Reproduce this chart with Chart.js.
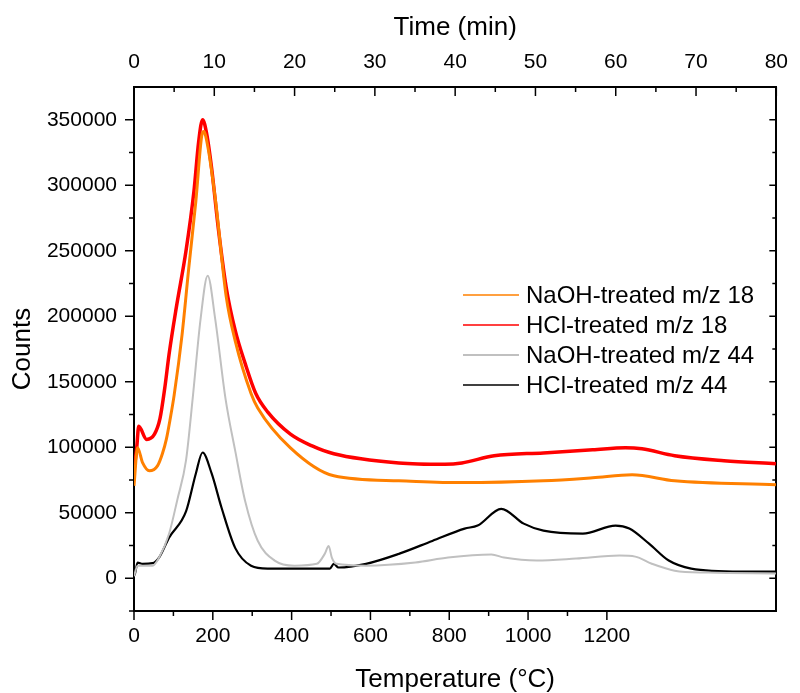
<!DOCTYPE html>
<html>
<head>
<meta charset="utf-8">
<script src="https://cdn.jsdelivr.net/npm/chart.js@4.4.1/dist/chart.umd.min.js"></script>
<style>
  html, body { margin: 0; padding: 0; background: #fff; }
  canvas { display: block; }
</style>
</head>
<body>
<canvas id="chart" width="800" height="693"></canvas>
<script>
// Axis ticks (labels shown on the major ones)
const tempTicks = [0, 200, 400, 600, 800, 1000, 1200];
const tempMinor = [100, 300, 500, 700, 900, 1100];
const timeTicks = [0, 10, 20, 30, 40, 50, 60, 70, 80];
const timeMinor = [5, 15, 25, 35, 45, 55, 65, 75];
const countTicks = [0, 50000, 100000, 150000, 200000, 250000, 300000, 350000];
const countMinor = [-25000, 25000, 75000, 125000, 175000, 225000, 275000, 325000];

// NaOH-treated m/z 18
const naoh18T = [0, 9, 22, 39, 60, 72, 82, 92, 102, 122, 139, 157, 172, 177, 187, 207, 234, 257, 297, 314, 397, 507, 672, 832, 1039, 1164, 1264, 1372, 1629];
const naoh18C = [70600, 99600, 88000, 82000, 86000, 95000, 106000, 122000, 140000, 186000, 237000, 288000, 338000, 341000, 330000, 288000, 215000, 181000, 141000, 130000, 99500, 78200, 74400, 73000, 74400, 76700, 79000, 74400, 71400];

// HCl-treated m/z 18
const hcl18T = [0, 7, 12, 32, 52, 66, 78, 89, 107, 132, 152, 164, 174, 184, 197, 214, 234, 257, 282, 309, 339, 397, 452, 507, 672, 789, 832, 914, 1039, 1164, 1247, 1289, 1372, 1497, 1629];
const hcl18C = [82000, 100000, 116000, 106000, 110000, 122000, 145000, 171000, 206000, 250000, 295000, 333000, 350000, 340000, 313000, 267000, 222000, 189000, 164000, 141000, 127000, 110000, 101000, 95000, 88000, 87000, 88000, 93500, 95700, 98000, 99600, 98800, 93500, 89700, 87400];

// NaOH-treated m/z 44
const naoh44T = [0, 9, 47, 64, 89, 110, 132, 149, 169, 187, 206, 232, 257, 282, 314, 357, 407, 464, 484, 494, 502, 514, 589, 714, 797, 907, 939, 1022, 1122, 1232, 1272, 1314, 1372, 1457, 1629];
const naoh44C = [1500, 9600, 9600, 16000, 34000, 60000, 90000, 137500, 198000, 231000, 198000, 137500, 97000, 59000, 28600, 13500, 9600, 11000, 18600, 24700, 15800, 11000, 9600, 12000, 15800, 18100, 15800, 13500, 15000, 17300, 16500, 11100, 5800, 4300, 3600];

// HCl-treated m/z 44
const hcl44T = [0, 3, 9, 22, 47, 64, 89, 132, 157, 174, 197, 222, 257, 297, 339, 497, 507, 519, 589, 672, 757, 839, 872, 932, 989, 1039, 1139, 1222, 1257, 1307, 1357, 1414, 1539, 1629];
const hcl44C = [2000, 4000, 12000, 11000, 11500, 16000, 31000, 51000, 80000, 96000, 80000, 54000, 23000, 9600, 7400, 7400, 11000, 8200, 11000, 18600, 28500, 37900, 40200, 53000, 41700, 36300, 34000, 40200, 37900, 26400, 13500, 7400, 5100, 5100];

const toPoints = (xs, ys) => xs.map((x, i) => ({ x: x, y: ys[i] }));
const asTicks = vals => vals.map(v => ({ value: v }));
const FONT = '"Liberation Sans", Arial, sans-serif';

function series(label, xs, ys, color, width, legendWidth) {
    return {
        label: label,
        data: toPoints(xs, ys),
        borderColor: color,
        borderWidth: width,
        legendWidth: legendWidth,
        pointRadius: 0,
        cubicInterpolationMode: 'monotone',
        fill: false
    };
}

// Tick marks: left/bottom outward, top/right inward
const tickMarks = {
    id: 'tickMarks',
    afterDraw(chart) {
        const { ctx, chartArea: a, scales } = chart;
        const line = (x1, y1, x2, y2) => { ctx.beginPath(); ctx.moveTo(x1, y1); ctx.lineTo(x2, y2); ctx.stroke(); };
        ctx.save();
        ctx.strokeStyle = '#000';
        ctx.lineWidth = 1.5;
        tempTicks.forEach(v => { const x = scales.x.getPixelForValue(v); line(x, a.bottom, x, a.bottom + 9); });
        tempMinor.forEach(v => { const x = scales.x.getPixelForValue(v); line(x, a.bottom, x, a.bottom + 5); });
        timeTicks.forEach(v => { const x = scales.x2.getPixelForValue(v); line(x, a.top, x, a.top + 9); });
        timeMinor.forEach(v => { const x = scales.x2.getPixelForValue(v); line(x, a.top, x, a.top + 5); });
        countTicks.forEach(v => {
            const y = scales.y.getPixelForValue(v);
            line(a.left - 9, y, a.left, y);
            line(a.right - 7, y, a.right, y);
        });
        countMinor.forEach(v => {
            const y = scales.y.getPixelForValue(v);
            line(a.left - 5, y, a.left, y);
            if (v > 0) line(a.right - 4, y, a.right, y);
        });
        ctx.restore();
    }
};

// Legend inside the plot
const insideLegend = {
    id: 'insideLegend',
    afterDraw(chart) {
        const { ctx } = chart;
        ctx.save();
        ctx.font = '24px ' + FONT;
        ctx.textBaseline = 'middle';
        ctx.fillStyle = '#000';
        chart.data.datasets.forEach((ds, i) => {
            const y = 295 + i * 30;
            ctx.strokeStyle = ds.borderColor;
            ctx.lineWidth = ds.legendWidth;
            ctx.beginPath(); ctx.moveTo(463, y); ctx.lineTo(519, y); ctx.stroke();
            ctx.fillText(ds.label, 526, y + 1);
        });
        ctx.restore();
    }
};

new Chart(document.getElementById('chart'), {
    type: 'line',
    data: {
        datasets: [
            series('NaOH-treated m/z 18', naoh18T, naoh18C, '#FF8000', 3, 1.5),
            series('HCl-treated m/z 18', hcl18T, hcl18C, '#FF0000', 3.5, 1.5),
            series('NaOH-treated m/z 44', naoh44T, naoh44C, '#C0C0C0', 2, 2),
            series('HCl-treated m/z 44', hcl44T, hcl44C, '#000000', 2.2, 1.5)
        ]
    },
    options: {
        responsive: false,
        animation: false,
        layout: { padding: 0 },
        plugins: { legend: { display: false }, tooltip: { enabled: false } },
        scales: {
            x: {
                type: 'linear', position: 'bottom', min: 0, max: 1630,
                grid: { display: false, drawTicks: false },
                border: { display: true, color: '#000', width: 2 },
                ticks: {
                    autoSkip: false, maxRotation: 0, padding: 13, color: '#000',
                    font: { family: FONT, size: 21 },
                    callback: v => String(v)
                },
                afterBuildTicks: s => { s.ticks = asTicks(tempTicks); },
                title: {
                    display: true, text: 'Temperature (°C)', color: '#000',
                    font: { family: FONT, size: 26, lineHeight: 1 }, padding: { top: 0, bottom: 0 }
                },
                afterFit: s => { s.height = 82; }
            },
            x2: {
                type: 'linear', position: 'top', min: 0, max: 80,
                grid: { display: false, drawTicks: false },
                border: { display: true, color: '#000', width: 2 },
                ticks: {
                    autoSkip: false, maxRotation: 0, padding: 12, color: '#000',
                    font: { family: FONT, size: 21 },
                    callback: v => String(v)
                },
                afterBuildTicks: s => { s.ticks = asTicks(timeTicks); },
                title: {
                    display: true, text: 'Time (min)', color: '#000',
                    font: { family: FONT, size: 26, lineHeight: 1 }, padding: { top: 15, bottom: 0 }
                },
                afterFit: s => { s.height = 87; }
            },
            y: {
                type: 'linear', position: 'left', min: -25000, max: 375000,
                grid: { display: false, drawTicks: false },
                border: { display: true, color: '#000', width: 2 },
                ticks: {
                    autoSkip: false, padding: 17, color: '#000',
                    font: { family: FONT, size: 21 },
                    callback: v => String(v)
                },
                afterBuildTicks: s => { s.ticks = asTicks(countTicks); },
                title: {
                    display: true, text: 'Counts', color: '#000',
                    font: { family: FONT, size: 26, lineHeight: 1 }, padding: { top: 10, bottom: 0 }
                },
                afterFit: s => { s.width = 134; }
            },
            y2: {
                type: 'linear', position: 'right', min: -25000, max: 375000,
                grid: { display: false, drawTicks: false },
                border: { display: true, color: '#000', width: 2 },
                ticks: { display: false },
                afterFit: s => { s.width = 14; }
            }
        }
    },
    plugins: [tickMarks, insideLegend]
});
</script>
</body>
</html>
